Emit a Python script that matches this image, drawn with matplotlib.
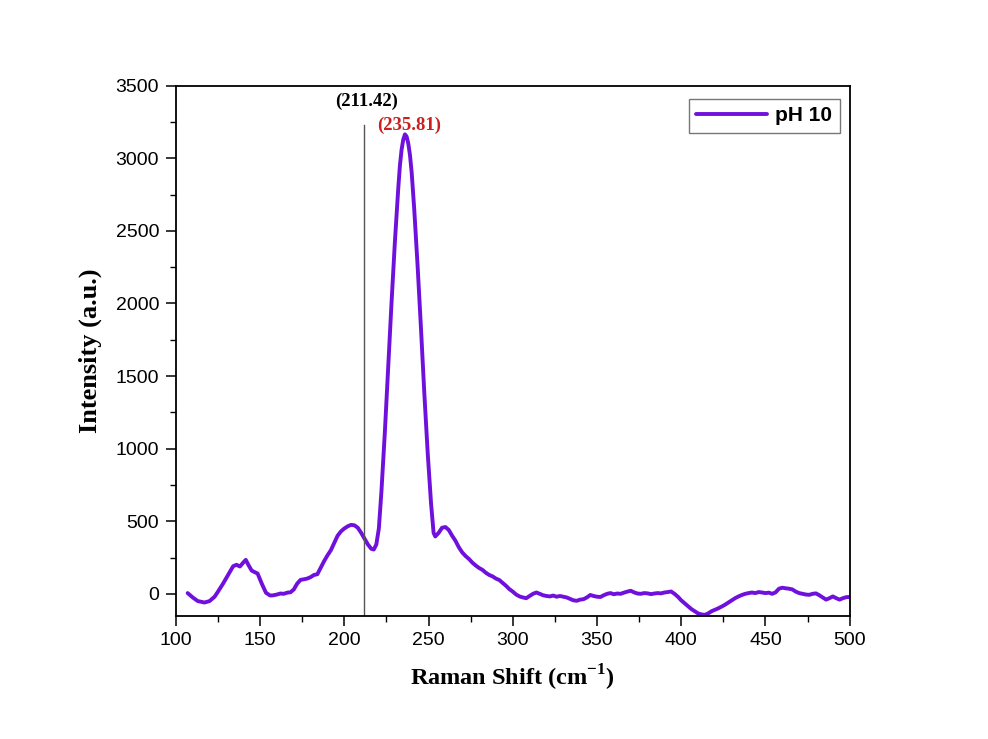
import matplotlib
matplotlib.use("Agg")
import matplotlib.pyplot as plt
from matplotlib.ticker import MultipleLocator

raman_shift = [107, 110, 113, 117, 120, 123, 125, 128, 131, 134, 136, 138, 140, 141.5, 143, 145, 147, 148.5,
               151, 153.5, 156, 158, 160, 162, 164, 166.5, 168, 170, 172, 174, 176, 178, 180, 182, 184, 186,
               188, 190, 192, 194, 196, 198, 200, 202, 204, 206, 208, 210, 212, 214, 216, 217.5, 219, 220.5,
               222, 224, 226, 228, 230, 232, 233, 234, 235, 236, 237, 238, 239, 240, 241.5, 243.5, 245.5,
               247.5, 249.5, 251.5, 253, 254, 256, 258, 260, 262, 264, 266, 268, 270, 272, 274, 276, 278,
               280, 282, 284, 286, 288, 290, 292, 294, 296, 298, 300, 302, 304, 306, 308, 310, 312, 314,
               316, 318, 320, 322, 324, 326, 328, 330, 332, 334, 336, 338, 340, 342, 344, 346, 348, 350,
               352, 354, 356, 358, 360, 362, 364, 366, 368, 370, 372, 374, 376, 378, 380, 382, 384, 386,
               388, 390, 392, 394, 396, 398, 400, 402, 404, 406, 408, 410, 412, 414, 416, 418, 420, 422,
               424, 426, 428, 430, 432, 434, 436, 438, 440, 442, 444, 446, 448, 450, 452, 454, 456, 458,
               460, 462, 464, 466, 468, 470, 472, 474, 476, 478, 480, 482, 484, 486, 488, 490, 492, 494,
               496, 498, 500]
intensity = [5, -25, -50, -60, -50, -20, 15, 70, 130, 190, 200, 188, 215, 234, 200, 160, 148, 140,
             70, 7, -12, -10, -5, 2, 0, 9, 10, 30, 70, 96, 100, 105, 115, 130, 135, 180,
             225, 265, 300, 350, 400, 430, 450, 465, 475, 472, 455, 420, 380, 340, 310, 305, 340, 450,
             700, 1100, 1550, 2000, 2420, 2790, 2950, 3060, 3130, 3165, 3150, 3100, 3020, 2900, 2650,
             2260, 1830, 1380, 970, 620, 420, 395, 420, 455, 460, 440, 400, 365, 320, 285, 260, 240,
             215, 195, 178, 165, 145, 130, 120, 105, 95, 75, 55, 32, 15, -5, -18, -25, -30, -15, 0, 9,
             0, -10, -15, -18, -12, -20, -15, -20, -25, -35, -45, -48, -40, -37, -25, -8, -15, -20,
             -22, -10, 0, 5, -3, 2, 0, 8, 15, 21, 10, 2, 0, 5, 3, -2, 2, 5,
             3, 9, 12, 16, 0, -20, -45, -65, -85, -105, -120, -135, -142, -145, -135, -120, -110, -100,
             -88, -75, -60, -45, -30, -18, -8, 0, 5, 9, 5, 12, 9, 5, 8, 0, 10, 35,
             42, 38, 35, 30, 15, 5, 0, -5, -7, 0, 3, -10, -25, -40, -30, -18, -30, -40,
             -30, -23, -22]

series_label = "pH 10"
marker_line_x = 211.42
marker_label = "(211.42)"
peak_label = "(235.81)"
peak_x = 235.81

fig = plt.figure(figsize=(9.88, 7.39), dpi=100)
ax = fig.add_axes([0.178, 0.167, 0.682, 0.717])

ax.plot(raman_shift, intensity, color="#7010DC", lw=2.8, label=series_label,
        solid_joinstyle="round", solid_capstyle="round")
ax.axvline(marker_line_x, ymin=0, ymax=(3230 + 150) / 3650, color="#555555", lw=1.0)

serif = ["Liberation Serif", "DejaVu Serif"]
sans = ["Liberation Sans", "DejaVu Sans"]
ax.text(marker_line_x + 1.5, 3390, marker_label, ha="center", va="center",
        fontfamily=serif, fontweight="bold", fontsize=13.5, color="black")
ax.text(peak_x + 2.5, 3225, peak_label, ha="center", va="center",
        fontfamily=serif, fontweight="bold", fontsize=13.5, color="#C8201E")

ax.set_xlim(100, 500)
ax.set_ylim(-150, 3500)
ax.xaxis.set_major_locator(MultipleLocator(50))
ax.xaxis.set_minor_locator(MultipleLocator(25))
ax.yaxis.set_major_locator(MultipleLocator(500))
ax.yaxis.set_minor_locator(MultipleLocator(250))
ax.tick_params(which="major", direction="out", length=7, width=1.1, labelsize=14, pad=5)
ax.tick_params(which="minor", direction="out", length=4, width=1.0)
for lab in ax.get_xticklabels() + ax.get_yticklabels():
    lab.set_fontfamily(sans)
for s in ax.spines.values():
    s.set_linewidth(1.3)

ax.set_xlabel("Raman Shift (cm$^{\\mathregular{-1}}$)", fontfamily=serif, fontweight="bold",
              fontsize=17.5, labelpad=10)
ax.set_ylabel("Intensity (a.u.)", fontfamily=serif, fontweight="bold", fontsize=19, labelpad=10)

leg = ax.legend(loc="upper right", bbox_to_anchor=(0.985, 0.975),
                prop={"family": sans, "weight": "bold", "size": 15},
                frameon=True, fancybox=False, edgecolor="#555555", handlelength=3.4,
                borderaxespad=0.0, borderpad=0.35, handletextpad=0.4)
leg.get_frame().set_linewidth(1.0)

fig.savefig("out.png", dpi=100)
